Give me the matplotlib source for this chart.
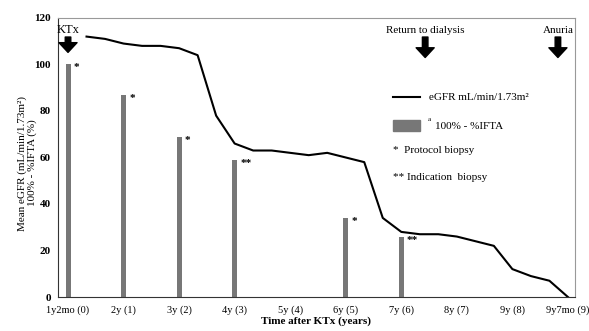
import matplotlib.pyplot as plt
from matplotlib.patches import Rectangle

plt.rcParams['font.family'] = ['Liberation Serif', 'DejaVu Serif']

# categories on the x axis
xlabels = ["1y2mo (0)", "2y (1)", "3y (2)", "4y (3)", "5y (4)", "6y (5)",
           "7y (6)", "8y (7)", "9y (8)", "9y7mo (9)"]

# mean eGFR, sampled every 1/3 year-step
egfr_x = [k / 3 for k in range(1, 28)]
egfr_y = [112, 111, 109, 108, 108, 107, 104, 78, 66,
          63, 63, 62, 61, 62, 60, 58, 34, 28,
          27, 27, 26, 24, 22, 12, 9, 7, 0]

# 100% - %IFTA at biopsies
bar_x = [0, 1, 2, 3, 5, 6]
bar_y = [100, 87, 69, 59, 34, 26]
bar_mark = ["*", "*", "*", "**", "*", "**"]

# events shown with arrows
events = ["KTx", "Return to dialysis", "Anuria"]
event_x = [0, 6.43, 8.82]

fig = plt.figure(figsize=(5.89, 3.31), dpi=100)
ax = fig.add_axes([0.0985, 0.1027, 0.8775, 0.843])

ax.bar(bar_x, bar_y, width=0.09, color="#777777", zorder=2)
for x, y, m in zip(bar_x, bar_y, bar_mark):
    ax.text(x + 0.1, y - 1.5, m, fontsize=8, fontweight="bold", va="center", ha="left")

ax.plot(egfr_x, egfr_y, color="black", lw=1.5, zorder=3)

ax.set_xlim(-0.18, 9.125)
ax.set_ylim(0, 120)
ax.set_xticks(range(len(xlabels)))
ax.set_xticklabels(xlabels, fontsize=7.5)
ax.set_yticks(range(0, 121, 20))
for t in ax.get_yticklabels():
    t.set_fontsize(8)
    t.set_fontweight("bold")
ax.tick_params(axis="x", length=0, pad=6)
ax.tick_params(axis="y", length=0, pad=5)

for s in ["top", "right"]:
    ax.spines[s].set_color("#999999")
for s in ["left", "bottom"]:
    ax.spines[s].set_color("#333333")

ax.set_xlabel("Time after KTx (years)", fontsize=8, fontweight="bold")
ax.xaxis.set_label_coords(0.5, -0.068)
ax.set_ylabel("Mean eGFR (mL/min/1.73m²)\n100% - %IFTA (%)", fontsize=8, linespacing=1.1)
ax.yaxis.set_label_coords(-0.04, 0.48)

# event arrows
for name, x in zip(events, event_x):
    if name == "KTx":
        ax.text(x, 114.8, name, fontsize=9, ha="center", va="center")
        top, tip = 111.8, 105.2
    else:
        ax.text(x, 114.8, name, fontsize=8, ha="center", va="center")
        top, tip = 111.8, 103.0
    ax.annotate("", xy=(x, tip), xytext=(x, top), annotation_clip=False,
                arrowprops=dict(facecolor="black", edgecolor="black",
                                width=4, headwidth=13, headlength=7))

# legend-like text block
ax.plot([5.85, 6.34], [86, 86], color="black", lw=1.5)
ax.text(6.5, 86, "eGFR mL/min/1.73m²", fontsize=8, va="center")
ax.add_patch(Rectangle((5.85, 71.2), 0.49, 5, color="#777777"))
ax.text(6.48, 76.5, "a", fontsize=5, va="center")
ax.text(6.6, 73.5, "100% - %IFTA", fontsize=8, va="center")
ax.text(5.85, 62.8, "*  Protocol biopsy", fontsize=8, va="center")
ax.text(5.85, 51.6, "** Indication  biopsy", fontsize=8, va="center")

fig.savefig("out.png", dpi=100)
